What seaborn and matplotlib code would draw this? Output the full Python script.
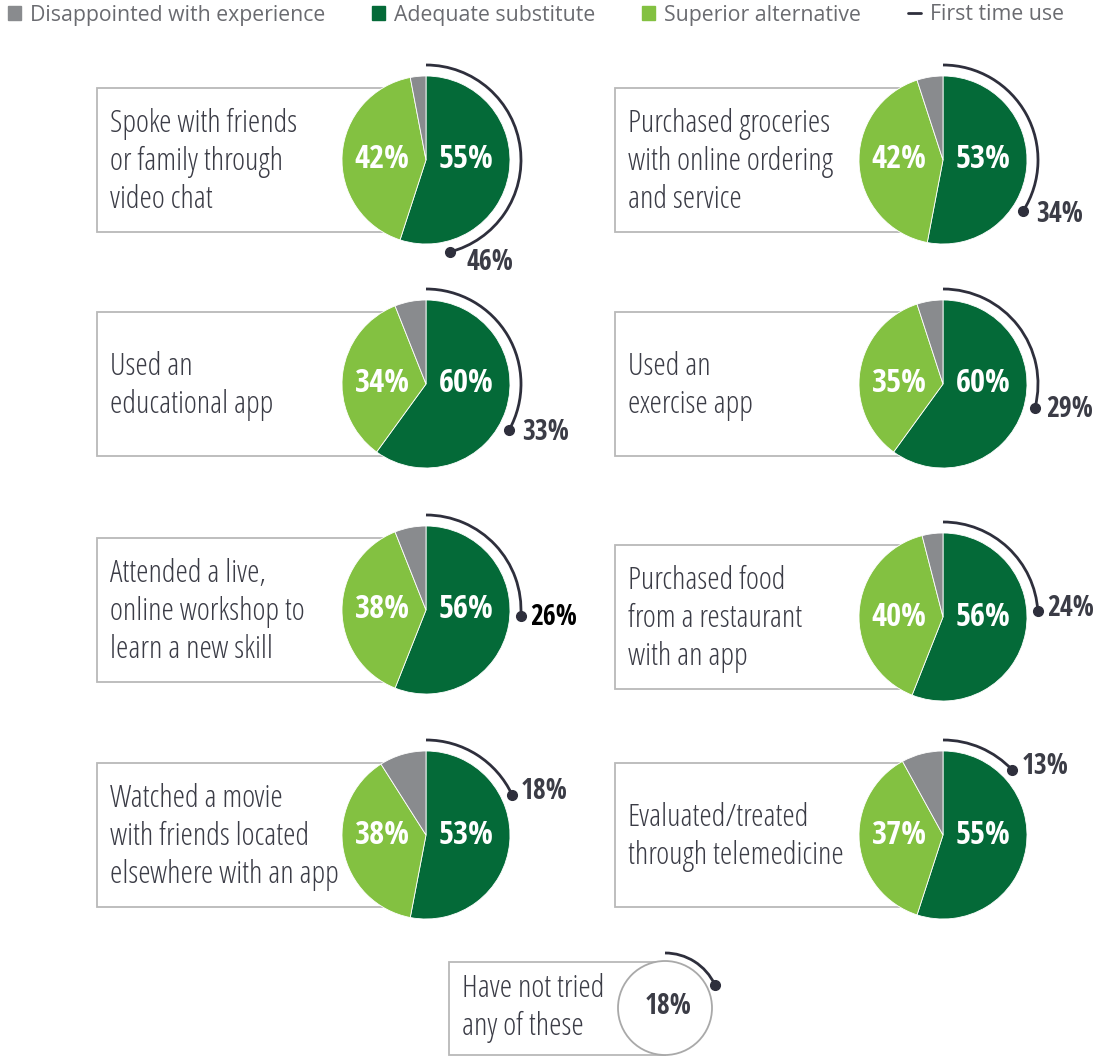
import numpy as np
import seaborn as sns
import matplotlib
matplotlib.use("Agg")
import matplotlib.pyplot as plt
from matplotlib import font_manager
from matplotlib.patches import Rectangle, Arc, Circle, Patch
from matplotlib.lines import Line2D

# data
activities = [
    'Spoke with friends\nor family through\nvideo chat',
    'Purchased groceries\nwith online ordering\nand service',
    'Used an\neducational app',
    'Used an\nexercise app',
    'Attended a live,\nonline workshop to\nlearn a new skill',
    'Purchased food\nfrom a restaurant\nwith an app',
    'Watched a movie\nwith friends located\nelsewhere with an app',
    'Evaluated/treated\nthrough telemedicine',
]
adequate = [55, 53, 60, 60, 56, 56, 53, 55]
superior = [42, 42, 34, 35, 38, 40, 38, 37]
disappointed = [3, 5, 6, 5, 6, 4, 9, 8]
first_time = [46, 34, 33, 29, 26, 24, 18, 13]
none_label = 'Have not tried\nany of these'
none_value = 18

legend_labels = ['Disappointed with experience', 'Adequate substitute',
                 'Superior alternative', 'First time use']

c_gray = '#898b8e'
c_dark = '#046a38'
c_light = '#83c141'
c_arc = '#2e2f3c'
c_text = '#3b3c46'


def pick_font(name, stretch, weight):
    # look up an exact upright face so matplotlib does not fall back to another one
    for f in font_manager.fontManager.ttflist:
        if f.name == name and f.stretch == stretch and f.weight == weight and f.style == 'normal':
            return font_manager.FontProperties(fname=f.fname)
    return font_manager.FontProperties(family='DejaVu Sans')


sns.set_theme(style='white')
plt.rcParams['font.family'] = ['Open Sans', 'DejaVu Sans']

f_light = pick_font('Open Sans', 'condensed', 300)
f_bold = pick_font('Open Sans Condensed', 'condensed', 700)
f_legend = pick_font('Open Sans', 'normal', 400)
f_legend.set_size(15.3)

W, H = 1094, 1057
fig = plt.figure(figsize=(W / 100, H / 100), dpi=100)
ax = fig.add_axes([0, 0, 1, 1])


def Y(y):
    # picture rows run downwards, axes y runs upwards
    return H - y


# layout: (box left, pie centre x, pie centre y) for each panel
layout = [(97, 426, 160), (615, 943, 160),
          (97, 426, 384), (615, 943, 384),
          (97, 426, 610), (615, 943, 617),
          (97, 426, 835), (615, 943, 835)]
R = 84
R_ARC = 95

for i, (bx, cx, cy) in enumerate(layout):
    ax.add_patch(Rectangle((bx, Y(cy + 72)), cx - bx, 144, facecolor='white',
                           edgecolor='#b9b9b9', lw=1.3, zorder=1))
    ax.text(bx + 13, Y(cy + 2), activities[i], fontproperties=f_light, fontsize=22.5,
            color=c_text, ha='left', va='center', linespacing=1.26, zorder=2)
    ax.pie([adequate[i], superior[i], disappointed[i]],
           colors=[c_dark, c_light, c_gray], startangle=90, counterclock=False,
           center=(cx, Y(cy)), radius=R, frame=True,
           wedgeprops=dict(linewidth=0.6, edgecolor='white', zorder=3))
    ax.text(cx + 40, Y(cy), f'{adequate[i]}%', fontproperties=f_bold, fontsize=23.5,
            color='white', ha='center', va='center', zorder=4)
    ax.text(cx - 44, Y(cy), f'{superior[i]}%', fontproperties=f_bold, fontsize=23.5,
            color='white', ha='center', va='center', zorder=4)

    # first time use arc, clockwise from 12 o'clock
    sweep = first_time[i] * 3.6
    ax.add_patch(Arc((cx, Y(cy)), 2 * R_ARC, 2 * R_ARC, theta1=90 - sweep, theta2=90,
                     color=c_arc, lw=2, zorder=2))
    th = np.deg2rad(sweep)
    dx, dy = cx + R_ARC * np.sin(th), cy - R_ARC * np.cos(th)
    ax.plot(dx, Y(dy), 'o', color=c_arc, ms=7, zorder=5)
    c = -np.cos(th)
    off_x = 9 + 8 * max(c, 0)
    off_y = 2 + 9 * c ** 3 if c >= 0 else -3
    ax.text(dx + off_x, Y(dy + off_y), f'{first_time[i]}%', fontproperties=f_bold,
            fontsize=20, color='black' if i == 4 else c_text, ha='left', va='center', zorder=5)

# "have not tried" panel
bx, cx, cy = 449, 665, 1008
ax.add_patch(Rectangle((bx, Y(1055)), cx - bx, 93, facecolor='white',
                       edgecolor='#b9b9b9', lw=1.3, zorder=1))
ax.text(bx + 13, Y(cy), none_label, fontproperties=f_light, fontsize=22.5,
        color=c_text, ha='left', va='center', linespacing=1.26, zorder=2)
ax.add_patch(Circle((cx, Y(cy)), 47, facecolor='white', edgecolor='#a9a9a9', lw=1.3, zorder=3))
ax.text(cx + 3, Y(cy - 1), f'{none_value}%', fontproperties=f_bold, fontsize=20,
        color=c_text, ha='center', va='center', zorder=4)
sweep = none_value * 3.6
ax.add_patch(Arc((cx, Y(cy)), 110, 110, theta1=90 - sweep, theta2=90, color=c_arc, lw=2, zorder=2))
th = np.deg2rad(sweep)
ax.plot(cx + 55 * np.sin(th), Y(cy - 55 * np.cos(th)), 'o', color=c_arc, ms=7, zorder=5)

# legend across the top
handles = [Patch(color=c_gray), Patch(color=c_dark), Patch(color=c_light),
           Line2D([], [], color=c_arc, lw=2)]
leg = fig.legend(handles, legend_labels, loc='center left', bbox_to_anchor=(8 / W, 1 - 15 / H),
                 ncol=4, frameon=False, prop=f_legend, handlelength=0.62, handleheight=0.62,
                 handletextpad=0.42, columnspacing=2.2, borderaxespad=0, borderpad=0)
for t in leg.get_texts():
    t.set_color('#6a6b70')

ax.set_xlim(0, W)
ax.set_ylim(0, H)
ax.set_aspect('equal')
ax.axis('off')
fig.savefig('out.png', dpi=100)
